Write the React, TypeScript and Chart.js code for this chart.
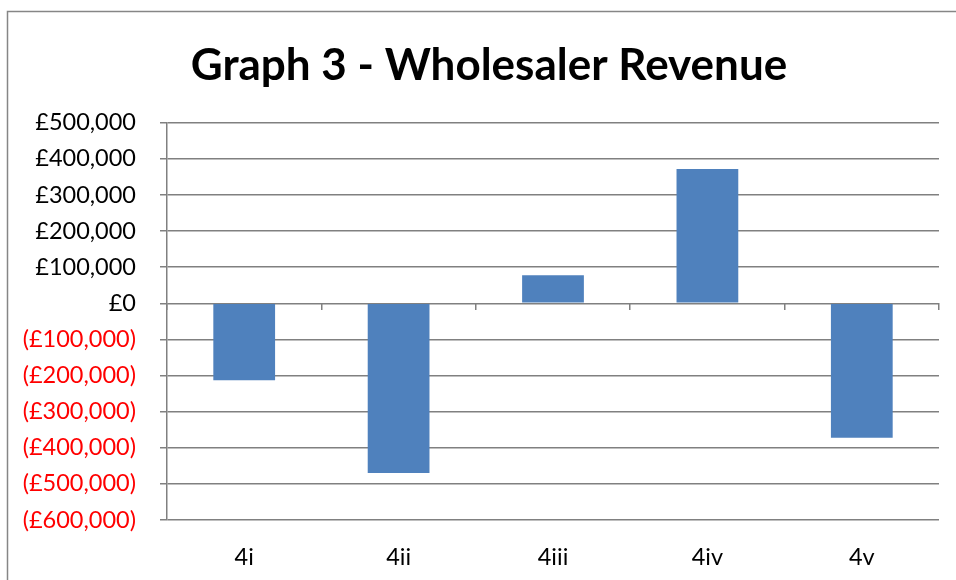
import React, { useEffect, useRef } from 'react';
import { Chart, registerables } from 'chart.js';

Chart.register(...registerables);

const categories: string[] = ['4i', '4ii', '4iii', '4iv', '4v'];
const revenue: number[] = [-213000, -470000, 78000, 372000, -372000];
const yMin = -600000;
const yMax = 500000;
const yStep = 100000;
const titleText = 'Graph 3 - Wholesaler Revenue';

const GRID = '#808080';
const BAR = '#4F81BD';

const fmt = (v: number): string => {
  const s = '£' + Math.abs(v).toLocaleString('en-GB');
  return v < 0 ? `(${s})` : s;
};

const framePlugin = {
  id: 'frame',
  beforeDraw(chart: any) {
    const ctx = chart.ctx;
    ctx.save();
    ctx.fillStyle = '#ffffff';
    ctx.fillRect(0, 0, chart.width, chart.height);
    ctx.strokeStyle = '#868686';
    ctx.lineWidth = 1.5;
    ctx.strokeRect(7.5, 11.5, chart.width + 40, chart.height + 40);
    ctx.restore();
  },
  afterLayout(chart: any) {
    // the chart's outer frame starts left of the canvas edge; centre the title in it
    const tb = chart.titleBlock;
    if (tb) tb.left = tb.left + 39;
  },
};

export default function App() {
  const ref = useRef<HTMLCanvasElement | null>(null);

  useEffect(() => {
    if (!ref.current) return;
    const chart = new Chart(ref.current, {
      type: 'bar',
      data: {
        labels: categories,
        datasets: [
          {
            label: 'Revenue',
            data: revenue,
            backgroundColor: BAR,
            borderWidth: 0,
            categoryPercentage: 1,
            barPercentage: 0.4,
            xAxisID: 'x',
            yAxisID: 'y',
          },
        ],
      },
      options: {
        animation: false,
        responsive: false,
        maintainAspectRatio: false,
        layout: { padding: { left: 0, right: 17, top: 0, bottom: 0 } },
        plugins: {
          legend: { display: false },
          tooltip: { enabled: false },
          title: {
            display: true,
            text: titleText,
            color: '#000000',
            font: { family: 'Lato', weight: 'bold', size: 44 },
            padding: { top: 39, bottom: 31 },
          },
        },
        scales: {
          x: {
            type: 'category',
            position: { y: 0 } as any,
            offset: true,
            grid: {
              display: true,
              drawOnChartArea: false,
              drawTicks: true,
              tickLength: 7,
              color: GRID,
              lineWidth: 1.5,
              offset: true,
            },
            border: { display: false },
            ticks: { display: false },
          },
          x2: {
            type: 'category',
            position: 'bottom',
            offset: true,
            grid: { display: false, drawTicks: false },
            border: { display: false },
            ticks: {
              color: '#000000',
              font: { family: 'Lato', size: 23.5 },
              padding: 23,
            },
            afterFit(scale: any) {
              scale.height = 60;
            },
          },
          y: {
            type: 'linear',
            position: 'left',
            min: yMin,
            max: yMax,
            grid: {
              color: GRID,
              lineWidth: 1.5,
              tickLength: 7,
              drawTicks: true,
            },
            border: { display: true, color: GRID, width: 1.5 },
            ticks: {
              stepSize: yStep,
              padding: 24,
              font: { family: 'Lato', size: 23.5 },
              color: (ctx: any) => (ctx.tick && ctx.tick.value < 0 ? '#FF0000' : '#000000'),
              callback: (v: any) => fmt(Number(v)),
            },
            afterFit(scale: any) {
              scale.width = 167;
            },
          },
        },
      },
      plugins: [framePlugin],
    });
    return () => chart.destroy();
  }, []);

  return (
    <div style={{ position: 'fixed', left: 0, top: 0, width: 956, height: 580, background: '#fff' }}>
      <canvas ref={ref} width={956} height={580} style={{ display: 'block', width: 956, height: 580 }} />
    </div>
  );
}
